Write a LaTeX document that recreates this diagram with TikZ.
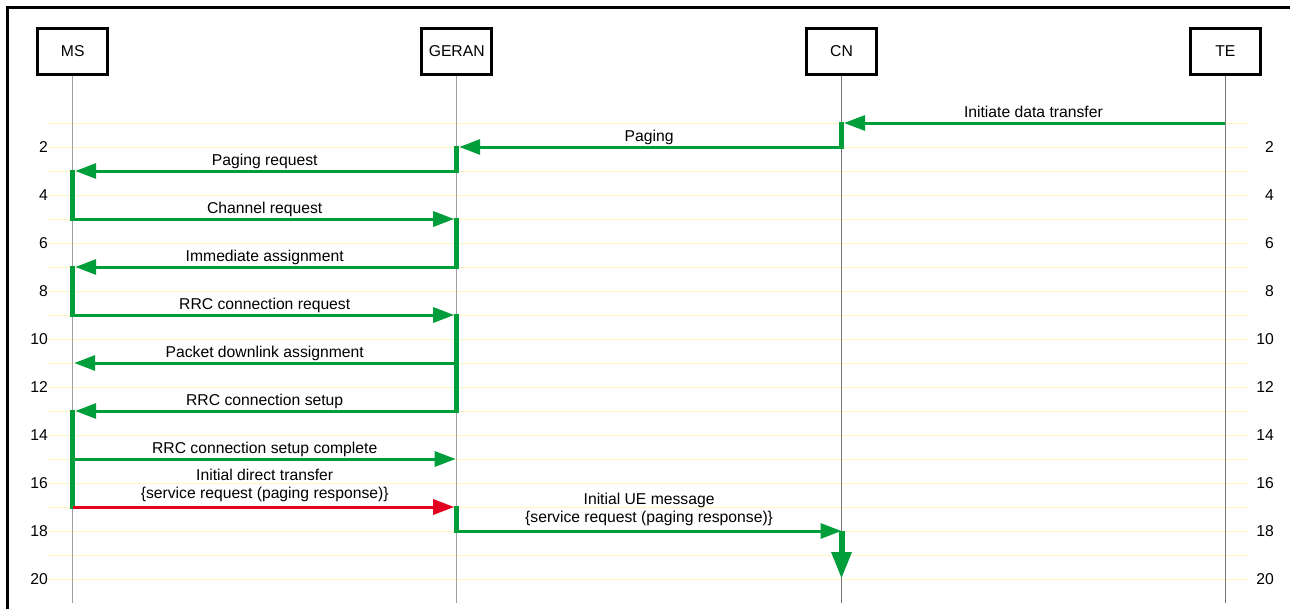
\documentclass[tikz,border=0pt]{standalone}
\usepackage{fontspec}
\setmainfont{Liberation Sans}
\usetikzlibrary{arrows.meta,calc}
\definecolor{msgreen}{RGB}{0,158,58}
\definecolor{msred}{RGB}{226,0,30}
\definecolor{gridy}{RGB}{255,246,196}
\definecolor{lifelight}{RGB}{160,160,160}
\definecolor{lifedark}{RGB}{120,120,120}
\begin{document}
\begin{tikzpicture}[x=1pt,y=-1pt,
  font=\fontsize{15.7}{18.6}\selectfont,
  entity/.style={draw=black, line width=3pt, minimum width=70pt, minimum height=46pt, inner sep=0pt, fill=white},
  lifeline/.style={line width=1.4pt},
  gridline/.style={gridy, line width=1pt},
  actbar/.style={msgreen, line width=5pt, shorten <=-1.5pt, shorten >=-1.5pt},
  msg/.style={msgreen, line width=3pt, -{Triangle[length=21pt,width=15pt]}},
  redmsg/.style={msg, msred},
  downmsg/.style={msgreen, line width=6pt, -{Triangle[length=27pt,width=19pt]}},
  lbl/.style={anchor=base, inner sep=0pt, text=black},
  rownum/.style={anchor=east, inner sep=0pt, text=black}
]
\useasboundingbox (0,0) rectangle (1290,608);
% frame
\draw[line width=3pt] (7,620) -- (7,7) -- (1300,7);
% grid
\foreach \k in {1,...,20} \draw[gridline] (48,99+24*\k) -- (1248,99+24*\k);
% row numbers
\foreach \k in {2,4,...,20} {
  \node[rownum] (ln\k) at (48,99+24*\k) {\k};
  \node[rownum] (rn\k) at (1274,99+24*\k) {\k};
}
% entities
\node[entity] (ms) at (72.7,51.5) {MS};
\node[entity] (geran) at (456.7,51.5) {GERAN};
\node[entity] (cn) at (841.5,51.5) {CN};
\node[entity] (te) at (1225.3,51.5) {TE};
% row coordinates
\foreach \n/\x in {ms/72.7,geran/456.7,cn/841.5,te/1225.3}
  \foreach \k in {1,...,21}
    \coordinate (\n-\k) at (\x,99+24*\k);
% lifelines
\draw[lifeline, lifelight] (ms.south) -- (ms-21);
\draw[lifeline, lifelight] (geran.south) -- (geran-21);
\draw[lifeline, lifedark] (cn.south) -- (cn-21);
\draw[lifeline, lifedark] (te.south) -- (te-21);
% activation bars
\draw[actbar] (cn-1) -- (cn-2);
\draw[actbar] (geran-2) -- (geran-3);
\draw[actbar] (ms-3) -- (ms-5);
\draw[actbar] (geran-5) -- (geran-7);
\draw[actbar] (ms-7) -- (ms-9);
\draw[actbar] (geran-9) -- (geran-13);
\draw[actbar] (ms-13) -- (ms-17);
\draw[actbar] (geran-17) -- (geran-18);
% messages
\draw[msg] (te-1) -- ($(cn-1)+(2.5,0)$);
\node[lbl] at ($(te-1)!0.5!(cn-1)+(0,-5.5)$) {Initiate data transfer};
\draw[msg] (cn-2) -- ($(geran-2)+(2.5,0)$);
\node[lbl] at ($(cn-2)!0.5!(geran-2)+(0,-5.5)$) {Paging};
\draw[msg] (geran-3) -- ($(ms-3)+(2.5,0)$);
\node[lbl] at ($(geran-3)!0.5!(ms-3)+(0,-5.5)$) {Paging request};
\draw[msg] (ms-5) -- ($(geran-5)+(-2.5,0)$);
\node[lbl] at ($(ms-5)!0.5!(geran-5)+(0,-5.5)$) {Channel request};
\draw[msg] (geran-7) -- ($(ms-7)+(2.5,0)$);
\node[lbl] at ($(geran-7)!0.5!(ms-7)+(0,-5.5)$) {Immediate assignment};
\draw[msg] (ms-9) -- ($(geran-9)+(-2.5,0)$);
\node[lbl] at ($(ms-9)!0.5!(geran-9)+(0,-5.5)$) {RRC connection request};
\draw[msg] (geran-11) -- ($(ms-11)+(1.5,0)$);
\node[lbl] at ($(geran-11)!0.5!(ms-11)+(0,-5.5)$) {Packet downlink assignment};
\draw[msg] (geran-13) -- ($(ms-13)+(2.5,0)$);
\node[lbl] at ($(geran-13)!0.5!(ms-13)+(0,-5.5)$) {RRC connection setup};
\draw[msg] (ms-15) -- ($(geran-15)+(-1,0)$);
\node[lbl] at ($(ms-15)!0.5!(geran-15)+(0,-5.5)$) {RRC connection setup complete};
\draw[redmsg] (ms-17) -- ($(geran-17)+(-2.5,0)$);
\node[lbl] at ($(ms-17)!0.5!(geran-17)+(0,-27)$) {Initial direct transfer};
\node[lbl] at ($(ms-17)!0.5!(geran-17)+(0,-8.5)$) {\{service request (paging response)\}};
\draw[msg] (geran-18) -- (cn-18);
\node[lbl] at ($(geran-18)!0.5!(cn-18)+(0,-27)$) {Initial UE message};
\node[lbl] at ($(geran-18)!0.5!(cn-18)+(0,-8.5)$) {\{service request (paging response)\}};
\draw[downmsg] ($(cn-18)+(0,-0.5)$) -- (cn-20);
\end{tikzpicture}
\end{document}
